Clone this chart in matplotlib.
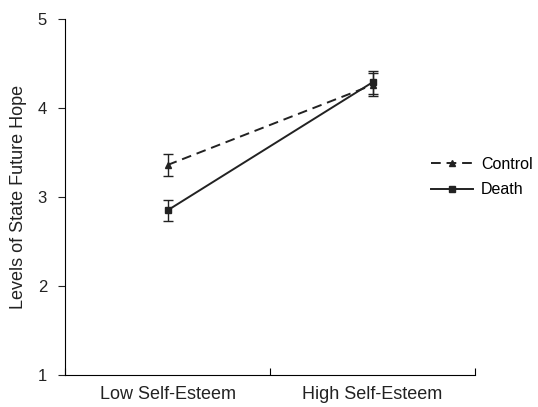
import numpy as np
import matplotlib.pyplot as plt

plt.rcParams['font.family'] = ['Liberation Sans', 'DejaVu Sans']

groups = ["Low Self-Esteem", "High Self-Esteem"]
control_mean = [3.36, 4.26]
control_err = [0.12, 0.13]
death_mean = [2.85, 4.29]
death_err = [0.12, 0.13]

x = np.array([0.5, 1.5])
col = '#222222'

fig = plt.figure(figsize=(5.38, 4.07), dpi=100)
ax = fig.add_axes([0.121, 0.079, 0.762, 0.874])

ax.errorbar(x, control_mean, yerr=control_err, color=col, ls=(0, (5, 3)), lw=1.4,
            marker='^', ms=4, capsize=3.5, elinewidth=1, capthick=1, label='Control')
ax.errorbar(x, death_mean, yerr=death_err, color=col, ls='-', lw=1.4,
            marker='s', ms=5, capsize=3.5, elinewidth=1, capthick=1, label='Death')

ax.set_xlim(0, 2)
ax.set_ylim(1, 5)
ax.set_yticks([1, 2, 3, 4, 5])
ax.set_xticks([0, 1, 2])
ax.set_xticklabels([])
ax.set_xticks(x, minor=True)
ax.set_xticklabels(groups, minor=True)
ax.tick_params(axis='x', which='minor', length=0, pad=8, labelsize=13, colors='#222222')
ax.tick_params(axis='x', which='major', direction='in', length=5)
ax.tick_params(axis='y', direction='out', length=5, labelsize=12, pad=8, colors='#222222')
ax.set_ylabel('Levels of State Future Hope', fontsize=13, color='#222222', labelpad=8)

for s in ['top', 'right']:
    ax.spines[s].set_visible(False)

h, l = ax.get_legend_handles_labels()
h = [hh[0] for hh in h]
fig.legend(h, l, loc='center left', bbox_to_anchor=(0.775, 0.565), frameon=False,
           fontsize=11.5, handlelength=2.6, handletextpad=0.5, labelspacing=0.65)

fig.savefig('out.png', dpi=100)
